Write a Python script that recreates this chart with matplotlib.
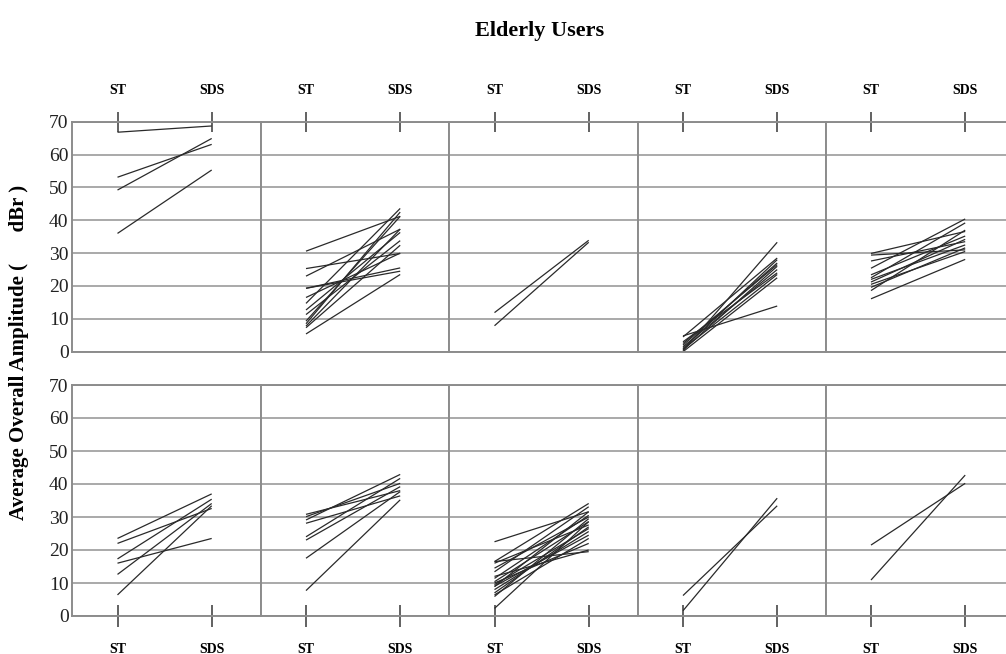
import matplotlib
matplotlib.use("Agg")
import matplotlib.pyplot as plt

# Condition labels and amplitude scale
conditions = ["ST", "SDS"]
y_ticks = [0, 10, 20, 30, 40, 50, 60, 70]

# Top row: per-user average amplitude (dBr), ST -> SDS
p1_st = [66.8, 53.1, 49.2, 36.0]
p1_sds = [68.7, 63.1, 64.9, 55.3]

p2_st = [30.6, 25.3, 19.3, 19.3, 23.0, 14.7, 12.7, 11.3, 9.3, 7.8, 7.3, 5.4, 8.5, 16.5]
p2_sds = [41.2, 29.9, 25.5, 24.5, 37.3, 43.6, 36.3, 33.8, 41.2, 37.3, 32.4, 23.5, 42.5, 30.0]

p3_st = [11.9, 7.9]
p3_sds = [33.9, 33.3]

p4_st = [0.3, 4.8, 4.5, 1.0, 2.0, 0.5, 1.5, 3.0, 0.8, 2.5, 0.0]
p4_sds = [33.3, 13.9, 28.5, 28.0, 27.0, 26.0, 25.0, 24.0, 23.5, 26.5, 22.5]

p5_st = [29.9, 29.4, 27.6, 25.4, 23.4, 22.5, 21.2, 19.6, 18.6, 16.1, 20.5, 22.0]
p5_sds = [36.6, 31.0, 33.5, 40.4, 35.2, 39.2, 34.2, 31.6, 37.0, 28.1, 30.5, 32.5]

# Bottom row
p6_st = [23.5, 22.0, 17.3, 16.0, 12.6, 6.4]
p6_sds = [37.0, 32.6, 35.4, 23.5, 34.1, 33.4]

p7_st = [30.8, 30.1, 29.1, 28.1, 24.0, 23.0, 17.5, 7.7]
p7_sds = [38.0, 40.2, 42.9, 36.4, 41.7, 39.2, 37.7, 35.2]

p8_st = [22.5, 16.5, 16.5, 16.0, 13.4, 11.4, 10.4, 10.0, 9.5, 8.9, 8.0, 7.0, 6.4, 5.9, 2.3, 12.0, 14.5, 9.0]
p8_sds = [31.6, 34.1, 19.5, 27.6, 33.1, 30.5, 28.6, 22.0, 26.5, 31.6, 25.6, 27.0, 23.5, 29.5, 28.6, 20.0, 30.0, 24.5]

p9_st = [6.2, 1.6]
p9_sds = [33.4, 35.7]

p10_st = [21.5, 10.9]
p10_sds = [40.2, 42.7]

top_panels = [(p1_st, p1_sds), (p2_st, p2_sds), (p3_st, p3_sds), (p4_st, p4_sds), (p5_st, p5_sds)]
bottom_panels = [(p6_st, p6_sds), (p7_st, p7_sds), (p8_st, p8_sds), (p9_st, p9_sds), (p10_st, p10_sds)]

W, H = 1006, 654
fig = plt.figure(figsize=(W / 100, H / 100), dpi=100)
fig.patch.set_facecolor("white")

serif = ["Liberation Serif", "DejaVu Serif"]
grid_col = "#a3a3a3"
frame_col = "#8c8c8c"

col_left = [72, 260.5, 449, 637.5, 825.5]
panel_w = 188.5
rows = [(121.7, 351.7, "top"), (385.0, 616.0, "bottom")]


def make_panel(left_px, top_px, bot_px, where, st_vals, sds_vals, show_y):
    ax = fig.add_axes([left_px / W, 1 - bot_px / H, panel_w / W, (bot_px - top_px) / H])
    ax.set_xlim(-0.483, 1.518)
    ax.set_ylim(0, 70)
    ax.set_yticks(y_ticks)
    ax.yaxis.grid(True, color=grid_col, linewidth=1.3)
    ax.set_axisbelow(True)
    for s in ax.spines.values():
        s.set_color(frame_col)
        s.set_linewidth(1.4)
    for a, b in zip(st_vals, sds_vals):
        ax.plot([0, 1], [a, b], color="#2a2a2a", linewidth=0.9, solid_capstyle="butt")
    ax.set_xticks([0, 1])
    ax.set_xticklabels(conditions, fontfamily=serif, fontweight="bold", fontsize=10)
    if where == "top":
        ax.tick_params(axis="x", top=True, bottom=False, labeltop=True, labelbottom=False,
                       direction="inout", length=14.4, width=1.3, color="#555555", pad=10.6)
    else:
        ax.tick_params(axis="x", top=False, bottom=True, labeltop=False, labelbottom=True,
                       direction="inout", length=15.5, width=1.3, color="#555555", pad=11.5)
    ax.tick_params(axis="y", length=0, pad=2.5)
    if show_y:
        ax.set_yticklabels([str(v) for v in y_ticks], fontfamily=serif, fontsize=14, color="#222222")
    else:
        ax.set_yticklabels([])
    return ax


for (top_px, bot_px, where), panels in zip(rows, [top_panels, bottom_panels]):
    for i, (st_vals, sds_vals) in enumerate(panels):
        make_panel(col_left[i], top_px, bot_px, where, st_vals, sds_vals, show_y=(i == 0))

fig.text(540 / W, 1 - 31 / H, "Elderly Users", ha="center", va="center",
         fontfamily=serif, fontweight="bold", fontsize=16)
fig.text(19 / W, 1 - 352 / H, "Average Overall Amplitude (      dBr )", ha="center", va="center",
         rotation=90, fontfamily=serif, fontweight="bold", fontsize=15)

fig.savefig("out.png", dpi=100, facecolor="white")
